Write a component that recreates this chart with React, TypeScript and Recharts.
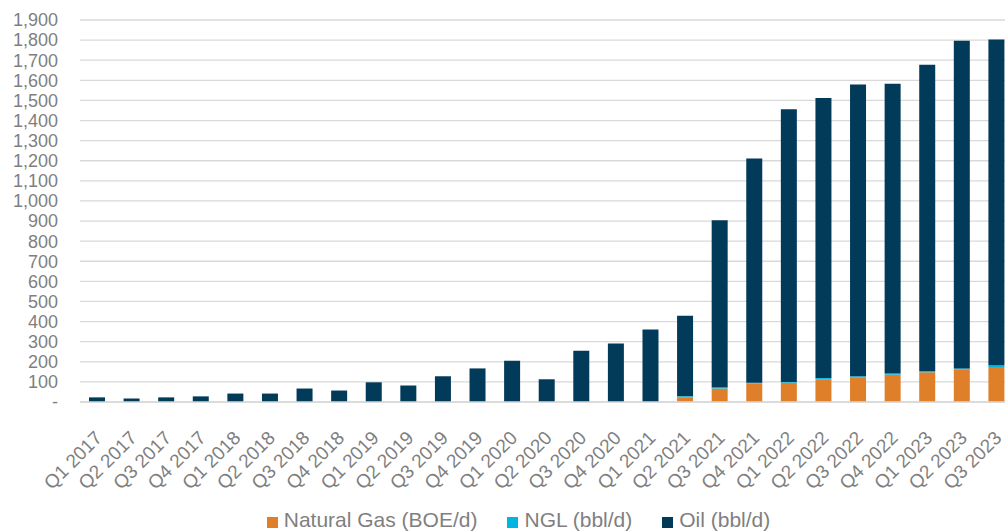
import React from 'react';
import { BarChart, Bar, XAxis, YAxis, CartesianGrid, Legend } from 'recharts';

const quarters = [
  'Q1 2017', 'Q2 2017', 'Q3 2017', 'Q4 2017',
  'Q1 2018', 'Q2 2018', 'Q3 2018', 'Q4 2018',
  'Q1 2019', 'Q2 2019', 'Q3 2019', 'Q4 2019',
  'Q1 2020', 'Q2 2020', 'Q3 2020', 'Q4 2020',
  'Q1 2021', 'Q2 2021', 'Q3 2021', 'Q4 2021',
  'Q1 2022', 'Q2 2022', 'Q3 2022', 'Q4 2022',
  'Q1 2023', 'Q2 2023', 'Q3 2023',
];

const naturalGas = [0, 0, 0, 0, 0, 0, 0, 0, 0, 0, 0, 0, 0, 0, 0, 0, 0, 22, 67, 92, 96, 113, 123, 136, 148, 161, 174];
const ngl = [0, 0, 0, 0, 0, 0, 0, 0, 0, 0, 0, 0, 0, 0, 0, 0, 0, 6, 5, 4, 4, 6, 5, 6, 6, 6, 7];
const oil = [23, 17, 23, 28, 42, 42, 67, 57, 98, 82, 128, 167, 205, 113, 255, 291, 361, 401, 832, 1115, 1356, 1393, 1451, 1441, 1524, 1630, 1622];

const yTicks = [0, 100, 200, 300, 400, 500, 600, 700, 800, 900, 1000, 1100, 1200, 1300, 1400, 1500, 1600, 1700, 1800, 1900];

const GAS = '#e07f2a';
const NGL = '#00b5e2';
const OIL = '#023a5a';
const TEXT = '#7f7f7f';
const GRID = '#d9d9d9';

const data = quarters.map((q, i) => ({ q, gas: naturalGas[i], ngl: ngl[i], oil: oil[i] }));

// rotated quarter labels, end of text sits just under the bar
const XTick = (props: any) => {
  const { x, y, payload } = props;
  return (
    <g transform={`translate(${x + 6},${y + 29})`}>
      <text x={0} y={0} textAnchor="end" transform="rotate(-45)" fill={TEXT} fontSize={19}>
        {payload.value}
      </text>
    </g>
  );
};

const legendItems = [
  { label: 'Natural Gas (BOE/d)', color: GAS },
  { label: 'NGL (bbl/d)', color: NGL },
  { label: 'Oil (bbl/d)', color: OIL },
];

const LegendContent = () => (
  <div style={{ display: 'flex', justifyContent: 'center', gap: 30, height: 24, lineHeight: '24px', paddingLeft: 23 }}>
    {legendItems.map((it) => (
      <div key={it.label} style={{ display: 'flex', alignItems: 'center' }}>
        <span style={{ width: 11, height: 11, background: it.color, display: 'inline-block', marginRight: 6, position: 'relative', top: 2 }} />
        <span style={{ color: TEXT, fontSize: 21 }}>{it.label}</span>
      </div>
    ))}
  </div>
);

export default function App() {
  return (
    <div style={{ position: 'fixed', left: 0, top: 0, width: 1005, height: 532, overflow: 'hidden', background: '#fff', fontFamily: '"Liberation Sans", Arial, sans-serif' }}>
      <BarChart width={1014} height={532} data={data} margin={{ top: 20, right: 0, left: 0, bottom: 0 }} barSize={16}>
        <CartesianGrid vertical={false} stroke={GRID} strokeWidth={1.3} />
        <XAxis
          dataKey="q"
          interval={0}
          tick={<XTick />}
          tickLine={false}
          axisLine={{ stroke: GRID, strokeWidth: 1.5 }}
          height={106}
        />
        <YAxis
          width={80}
          domain={[0, 1900]}
          ticks={yTicks}
          interval={0}
          tickFormatter={(v: number) => (v === 0 ? '-' : v.toLocaleString('en-US'))}
          tick={{ fill: TEXT, fontSize: 18 }}
          tickLine={false}
          axisLine={false}
          tickSize={0}
          tickMargin={22}
        />
        <Legend verticalAlign="bottom" content={<LegendContent />} />
        <Bar dataKey="gas" stackId="a" fill={GAS} isAnimationActive={false} />
        <Bar dataKey="ngl" stackId="a" fill={NGL} isAnimationActive={false} />
        <Bar dataKey="oil" stackId="a" fill={OIL} isAnimationActive={false} />
      </BarChart>
    </div>
  );
}
